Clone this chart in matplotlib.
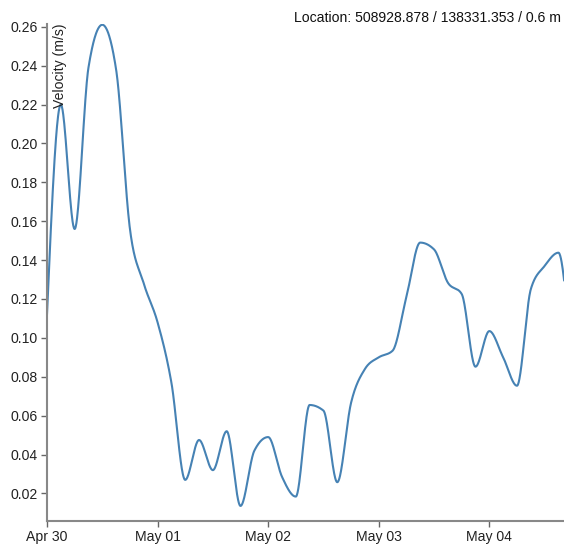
import numpy as np
import matplotlib
matplotlib.use("Agg")
import matplotlib.pyplot as plt
import matplotlib.dates as mdates
from datetime import datetime, timedelta

plt.rcParams['font.family'] = ['Liberation Sans', 'DejaVu Sans']

# 3-hourly velocity samples starting Apr 30 00:00
start = datetime(2018, 4, 30, 0, 0)
step_hours = 3
velocity = [
    0.112, 0.220, 0.156, 0.239, 0.261, 0.238, 0.156, 0.128, 0.108, 0.077,
    0.027, 0.0475, 0.032, 0.052, 0.0136, 0.042, 0.049, 0.0286, 0.0184, 0.0655,
    0.0626, 0.0258, 0.0667, 0.084, 0.090, 0.0934, 0.121, 0.149, 0.1455, 0.1284,
    0.1226, 0.0852, 0.1035, 0.090, 0.0754, 0.125, 0.137, 0.1438, 0.078,
]
y_ticks = [0.02, 0.04, 0.06, 0.08, 0.10, 0.12, 0.14, 0.16, 0.18, 0.20, 0.22, 0.24, 0.26]
x_tick_days = ['2018-04-30', '2018-05-01', '2018-05-02', '2018-05-03', '2018-05-04']
location_text = "Location: 508928.878 / 138331.353 / 0.6 m"
y_label = "Velocity (m/s)"

times = [start + timedelta(hours=step_hours * i) for i in range(len(velocity))]
xs = mdates.date2num(times)
ys = np.asarray(velocity, dtype=float)


def monotone_x(x, y, n=40):
    """Monotone cubic interpolation (Steffen-style tangents)."""
    x = np.asarray(x, float)
    y = np.asarray(y, float)
    m = len(x)
    h = np.diff(x)
    s = np.diff(y) / h
    t = np.zeros(m)
    for i in range(1, m - 1):
        h0, h1 = h[i - 1], h[i]
        s0, s1 = s[i - 1], s[i]
        p = (s0 * h1 + s1 * h0) / (h0 + h1)
        t[i] = (np.sign(s0) + np.sign(s1)) * min(abs(s0), abs(s1), 0.5 * abs(p))
    t[0] = (3 * s[0] - t[1]) / 2
    t[-1] = (3 * s[-1] - t[-2]) / 2
    out_x, out_y = [], []
    for i in range(m - 1):
        u = np.linspace(0, 1, n, endpoint=(i == m - 2))
        dx = h[i]
        h00 = 2 * u**3 - 3 * u**2 + 1
        h10 = u**3 - 2 * u**2 + u
        h01 = -2 * u**3 + 3 * u**2
        h11 = u**3 - u**2
        out_x.append(x[i] + u * dx)
        out_y.append(h00 * y[i] + h10 * dx * t[i] + h01 * y[i + 1] + h11 * dx * t[i + 1])
    return np.concatenate(out_x), np.concatenate(out_y)


cx, cy = monotone_x(xs, ys)

W, H = 564, 545
fig = plt.figure(figsize=(W / 100, H / 100), dpi=100)
left, right, top, bottom = 47, 564, 24, 520.7
ax = fig.add_axes([left / W, (H - bottom) / H, (right - left) / W, (bottom - top) / H])

ax.plot(cx, cy, color='#4682b4', linewidth=1.5, solid_capstyle='round', solid_joinstyle='round')

x0 = mdates.date2num(start)
ax.set_xlim(x0, x0 + (right - left) / 110.58)
ax.set_ylim(0.0060, 0.2614)

ax.set_yticks(y_ticks)
ax.set_yticklabels([f"{v:.2f}" for v in y_ticks])
ax.set_xticks(mdates.date2num([datetime.strptime(d, '%Y-%m-%d') for d in x_tick_days]))
ax.xaxis.set_major_formatter(mdates.DateFormatter('%b %d'))

for side in ('top', 'right'):
    ax.spines[side].set_visible(False)
for side in ('left', 'bottom'):
    ax.spines[side].set_color('#888888')
    ax.spines[side].set_linewidth(1.5)

ax.tick_params(axis='both', length=4.3, width=1.0, color='#666666', pad=2.2,
               labelsize=10.1, labelcolor='#222222')

fig.text(53 / W, 1 - 23.5 / H, y_label, rotation=90,
         ha='left', va='top', fontsize=10.1, color='#222222')

fig.text(561 / W, 1 - 18 / H, location_text, ha='right', va='center',
         fontsize=10.1, color='#111111')

fig.savefig('out.png', dpi=100)
